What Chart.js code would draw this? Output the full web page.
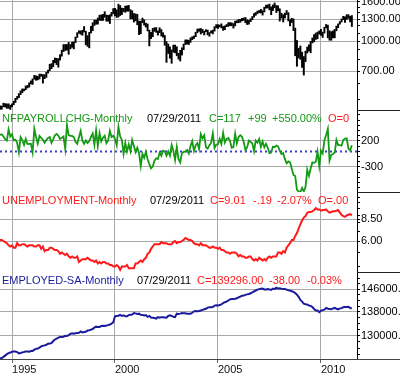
<!DOCTYPE html>
<html><head><meta charset="utf-8">
<script src="https://cdn.jsdelivr.net/npm/chart.js@4.4.0/dist/chart.umd.min.js"></script>
<style>html,body{margin:0;padding:0;background:#fff;overflow:hidden}canvas{display:block}</style>
</head><body>
<canvas id="c" width="400" height="376"></canvas>
<script>
// ---- categories: monthly, first month Jun 1994 ----
const startYear = 1994, startMonth = 6;

// ---- S&P 500 monthly low / high ----
const spLow = [
  443,444,457,456,449,449,443,
  457,468,481,500,510,529,541,553,560,572,578,600,
  597,635,627,630,637,657,606,639,649,683,704,720,
  737,773,756,733,798,836,883,894,898,855,912,929,
  912,983,1045,1098,1086,1073,1115,957,940,923,1102,1132,
  1205,1223,1225,1281,1278,1281,1328,1268,1268,1233,1347,1385,
  1350,1326,1333,1357,1373,1420,1410,1429,1428,1305,1305,1255,
  1274,1215,1081,1092,1245,1210,1182,1129,944,1031,1054,1123,
  1111,1074,1106,1063,1048,952,776,863,815,768,877,870,
  840,807,789,847,903,960,965,960,985,1018,1032,1055,
  1105,1124,1088,1105,1076,1118,1078,1060,1103,1090,1127,1172,
  1163,1184,1171,1137,1146,1188,1191,1201,1201,1168,1200,1245,
  1245,1253,1274,1280,1245,1219,1224,1261,1290,1331,1360,1385,
  1403,1398,1364,1416,1481,1484,1452,1370,1439,1489,1406,1435,
  1270,1316,1257,1317,1373,1272,1200,1248,1134,840,741,818,
  805,731,667,783,868,888,870,979,992,1020,1030,1086,
  1071,1045,1101,1170,1040,1011,1011,1040,1040,1131,1173,1224,
  1257,1292,1250,1295,1311,1258,1190
];
const spHigh = [
  463,461,477,475,473,474,466,
  473,489,506,517,535,553,566,565,586,590,608,623,
  638,665,661,658,675,675,671,671,690,708,759,765,
  795,818,815,812,851,898,960,961,961,985,960,987,
  992,1050,1106,1131,1130,1138,1190,1125,1067,1110,1193,1244,
  1285,1285,1317,1363,1367,1375,1420,1366,1359,1370,1409,1474,
  1479,1453,1553,1528,1482,1478,1518,1525,1531,1455,1437,1390,
  1383,1376,1270,1269,1316,1287,1238,1227,1140,1110,1164,1173,
  1176,1131,1173,1148,1106,1070,994,966,934,901,954,954,
  935,865,896,924,966,1015,1015,1011,1040,1054,1063,1112,
  1155,1158,1163,1150,1128,1146,1141,1108,1131,1140,1188,1217,
  1217,1212,1229,1192,1200,1219,1246,1246,1243,1233,1270,1276,
  1295,1297,1311,1319,1326,1290,1280,1306,1340,1389,1407,1431,
  1441,1461,1438,1498,1535,1541,1556,1504,1539,1576,1530,1524,
  1471,1396,1370,1397,1441,1405,1292,1314,1304,1168,1008,919,
  944,877,832,888,931,957,997,1039,1081,1101,1114,1130,
  1151,1113,1180,1220,1210,1132,1120,1130,1150,1196,1228,1263,
  1303,1345,1335,1370,1371,1345,1357
];

// ---- Nonfarm payroll change (thousands) ----
const nfp = [
  315,328,285,236,210,422,285,
  331,212,227,164,-18,273,215,126,240,142,145,148,
  -18,433,277,149,298,259,224,167,222,259,276,164,
  231,311,336,302,238,260,286,47,507,314,298,298,
  277,185,145,272,395,207,146,208,160,200,280,347,
  129,405,104,352,191,264,303,157,207,396,277,299,
  240,118,475,290,221,-45,163,-1,133,7,219,104,
  -15,71,-32,-282,-47,-124,-9,-152,-244,-326,-291,-178,
  -132,-147,-24,-83,15,1,-82,-1,-82,124,12,-165,
  87,-149,-209,-35,-8,-1,26,-41,106,199,11,120,
  160,43,333,250,310,80,52,119,162,347,65,131,
  136,240,142,359,171,241,257,200,71,84,343,153,
  276,312,281,183,23,82,208,183,157,4,208,170,
  238,88,188,78,144,71,-33,-24,88,84,114,98,
  10,-50,-33,-149,-231,-193,-210,-334,-452,-473,-740,-770,
  -780,-703,-770,-686,-351,-470,-329,-212,-219,-200,-7,-279,
  14,-39,208,313,432,-175,-66,-51,-27,220,121,120,
  110,220,246,251,53,18,117
];

// ---- Unemployment rate (%) ----
const unemp = [
  6.1,6.1,6.0,5.9,5.8,5.6,5.5,
  5.6,5.4,5.4,5.8,5.6,5.6,5.7,5.7,5.6,5.5,5.6,5.6,
  5.6,5.5,5.5,5.6,5.6,5.3,5.5,5.1,5.2,5.2,5.4,5.4,
  5.3,5.2,5.2,5.1,4.9,5.0,4.9,4.8,4.9,4.7,4.6,4.7,
  4.6,4.6,4.7,4.3,4.4,4.5,4.5,4.5,4.6,4.5,4.4,4.4,
  4.3,4.4,4.2,4.3,4.2,4.3,4.3,4.2,4.2,4.1,4.1,4.0,
  4.0,4.1,4.0,3.8,4.0,4.0,4.0,4.1,3.9,3.9,3.9,3.9,
  4.2,4.2,4.3,4.4,4.3,4.5,4.6,4.9,5.0,5.3,5.5,5.7,
  5.7,5.7,5.7,5.9,5.8,5.8,5.8,5.7,5.7,5.7,5.9,6.0,
  5.8,5.9,5.9,6.0,6.1,6.3,6.2,6.1,6.1,6.0,5.8,5.7,
  5.7,5.6,5.8,5.6,5.6,5.6,5.5,5.4,5.4,5.5,5.4,5.4,
  5.3,5.4,5.2,5.2,5.1,5.0,5.0,4.9,5.0,5.0,5.0,4.9,
  4.7,4.8,4.7,4.7,4.6,4.6,4.7,4.7,4.5,4.4,4.5,4.4,
  4.6,4.5,4.4,4.5,4.4,4.6,4.7,4.6,4.7,4.7,4.7,5.0,
  5.0,4.9,5.1,5.0,5.4,5.6,5.8,6.1,6.1,6.5,6.8,7.3,
  7.8,8.3,8.7,8.9,9.4,9.5,9.5,9.6,9.8,10.1,9.9,9.9,
  9.7,9.8,9.8,9.9,9.6,9.4,9.5,9.6,9.6,9.7,9.8,9.4,
  9.1,8.9,8.8,9.0,9.1,9.2,9.01
];

// ---- Employed, seasonally adjusted (thousands) ----
const employed = [
  122800,122950,123300,123700,124150,124450,124650,
  124900,124950,124950,124800,124400,124500,124700,124800,125000,125000,124900,125100,
  125100,125550,125800,125900,126200,126600,126800,126900,127100,127400,127500,127600,
  128300,128800,129100,129400,129600,129600,129700,130000,129900,130200,130600,130800,
  130700,130800,130900,131000,131400,131100,131200,131300,131700,131800,132000,132200,
  132700,133000,132900,132900,133200,133300,133200,133400,133500,133700,134000,134500,
  136500,136600,136700,137000,136600,136800,136500,136500,136900,137000,137100,137600,
  137500,137300,137400,137000,136900,136800,136900,136300,136600,136100,136000,135900,
  135700,136200,136000,136200,136200,136100,136000,136600,136800,136600,136300,136200,
  137400,137300,137400,137600,137500,137500,137400,137400,137400,137700,138200,138300,
  138200,138300,138500,138700,138900,139100,139500,139600,139600,139700,140200,140300,
  140200,140400,140600,141100,141400,141600,142000,142400,142500,142500,142600,142800,
  143100,143400,143700,143800,144000,144200,144300,144600,144900,145300,145600,145900,
  146100,146200,146300,146000,146000,146100,146000,145800,146300,146100,146600,146300,
  146400,146200,146100,146100,145900,145700,145600,145300,145100,144700,144100,143300,
  142200,141600,140900,140700,140600,140200,140100,139700,139000,138500,138500,137900,
  138400,138600,138800,139400,139100,139000,138900,139200,139400,139100,138900,139200,
  139300,139600,139700,139700,139800,139334,139296
];

// ---- tick values ----
const yearTicks = [1995, 2000, 2005, 2010];
const spTicks = [1600, 1300, 1000, 700];
const spMinor = [500, 600, 800, 900, 1100, 1200, 1400, 1500];
const nfpTicks = [200, -300];
const nfpMinor = [700, 600, 500, 400, 300, 100, 0, -100, -200, -400, -500, -600, -700];
const unTicks = [8.5, 6.0];
const unMinor = [4, 5, 7, 8, 9, 10, 11, 12];
const empTicks = [146000, 138000, 130000];
const empMinor = [150000, 148000, 144000, 142000, 140000, 136000, 134000, 132000, 128000, 126000, 124000];

// ---- panel header texts ----
const nfpTitle = ["NFPAYROLLCHG-Monthly", "07/29/2011", "C=117", "+99", "+550.00%", "O=0"];
const unTitle = ["UNEMPLOYMENT-Monthly", "07/29/2011", "C=9.01", "-.19", "-2.07%", "O=.00"];
const empTitle = ["EMPLOYED-SA-Monthly", "07/29/2011", "C=139296.00", "-38.00", "-0.03%"];

// ================= presentation =================
const GREEN = '#149a14', RED = '#ff1a1a', NAVY = '#1a1a9c', GRID = '#a8a8a8';
const FONT = {family: '"Liberation Sans", Arial, Helvetica, sans-serif', size: 11};
const monthT = i => startYear + (startMonth - 1 + i) / 12;
const xMin = monthT(0), xMax = monthT(208);

const titleLayout = [
  {axis: 'yNFP', text: nfpTitle, xs: [2, 147, 209, 248, 272, 328], colors: [GREEN, '#000', GREEN, GREEN, GREEN, RED]},
  {axis: 'yUN', text: unTitle, xs: [2, 150, 210, 253, 277, 318], colors: [RED, '#000', RED, RED, RED, RED]},
  {axis: 'yEMP', text: empTitle, xs: [2, 137, 197, 269, 307], colors: [NAVY, '#000', RED, RED, RED]}
];

function yAxis(type, min, max, major, minor, fmt, weight, order) {
  const majorSet = new Set(major);
  return {
    type, position: 'right', stack: 'panels', stackWeight: weight, weight: order,
    min, max, bounds: 'data', beginAtZero: false, offset: false,
    afterBuildTicks: ax => {
      ax.ticks = major.map(v => ({value: v, major: true}))
        .concat(minor.map(v => ({value: v, major: false})))
        .sort((a, b) => a.value - b.value);
    },
    afterFit: ax => { ax.width = 43; ax.paddingTop = 0; ax.paddingBottom = 0; },
    grid: {
      color: c => (c.tick && c.tick.major) ? GRID : 'rgba(0,0,0,0)',
      tickColor: '#000', tickLength: 3, lineWidth: 1, drawTicks: true
    },
    border: {display: true, color: '#000', width: 1},
    ticks: {autoSkip: false, padding: 1, color: '#000', font: FONT,
      callback: v => majorSet.has(v) ? fmt(v) : ''}
  };
}

const decor = {
  id: 'decor',
  afterDatasetsDraw(chart) {
    const ctx = chart.ctx;
    ctx.save();
    ctx.font = '11px "Liberation Sans", Arial, sans-serif';
    ctx.textBaseline = 'alphabetic';
    ctx.textAlign = 'left';
    titleLayout.forEach(p => {
      const top = Math.round(chart.scales[p.axis].top);
      p.text.forEach((t, i) => {
        ctx.fillStyle = p.colors[i];
        ctx.fillText(t, p.xs[i], top + 12);
      });
    });
    ctx.restore();
  },
  afterDraw(chart) {
    const ctx = chart.ctx;
    ctx.save();
    ctx.strokeStyle = '#222';
    ctx.lineWidth = 1;
    const right = chart.width;
    ['yNFP', 'yUN', 'yEMP'].forEach(id => {
      const s = chart.scales[id];
      const y = Math.round(s.top) + 0.5;
      ctx.beginPath(); ctx.moveTo(s.left, y); ctx.lineTo(right, y); ctx.stroke();
    });
    const s = chart.scales.yEMP;
    const yb = Math.round(s.bottom) + 0.5;
    ctx.strokeStyle = '#444';
    ctx.beginPath(); ctx.moveTo(s.left, yb); ctx.lineTo(right, yb); ctx.stroke();
    ctx.restore();
  }
};

new Chart(document.getElementById('c'), {
  type: 'line',
  data: {
    datasets: [
      {type: 'bar', label: 'S&P 500', xAxisID: 'x', yAxisID: 'ySP',
        data: spLow.map((lo, i) => ({x: monthT(i), y: [lo, spHigh[i]]})),
        backgroundColor: '#000', borderWidth: 0, barThickness: 1.3, grouped: false, order: 3},
      {label: 'NFP', xAxisID: 'x', yAxisID: 'yNFP',
        data: nfp.map((v, i) => ({x: monthT(i), y: v})),
        borderColor: GREEN, borderWidth: 1.8, pointRadius: 0, tension: 0, order: 1},
      {label: 'zero', xAxisID: 'x', yAxisID: 'yNFP',
        data: [{x: xMin, y: 0}, {x: xMax, y: 0}],
        borderColor: '#3c3cd0', borderWidth: 2, borderDash: [2, 3], pointRadius: 0, order: 5},
      {label: 'Unemployment', xAxisID: 'x', yAxisID: 'yUN',
        data: unemp.map((v, i) => ({x: monthT(i), y: v})),
        borderColor: RED, borderWidth: 2, pointRadius: 0, tension: 0, order: 1},
      {label: 'Employed', xAxisID: 'x', yAxisID: 'yEMP',
        data: employed.map((v, i) => ({x: monthT(i), y: v})),
        borderColor: NAVY, borderWidth: 2, pointRadius: 0, tension: 0, order: 1}
    ]
  },
  options: {
    responsive: false, animation: false, devicePixelRatio: 1,
    layout: {padding: 0},
    plugins: {legend: {display: false}, tooltip: {enabled: false}},
    scales: {
      x: {type: 'linear', position: 'bottom', min: xMin, max: xMax, bounds: 'data', offset: false,
        afterBuildTicks: ax => { ax.ticks = yearTicks.map(v => ({value: v})); },
        afterFit: ax => { ax.height = 17; ax.paddingLeft = 0; ax.paddingRight = 0; },
        grid: {color: GRID, tickColor: '#666', tickLength: 4, offset: false},
        border: {display: true, color: '#444', width: 1},
        ticks: {autoSkip: false, maxRotation: 0, minRotation: 0, align: 'start', padding: 0,
          color: '#111', font: FONT, callback: v => String(v)}},
      ySP: yAxis('logarithmic', 440, 1633, spTicks, spMinor, v => v.toFixed(2), 110, 1),
      yNFP: yAxis('linear', -781, 796, nfpTicks, nfpMinor, v => String(v), 82, 2),
      yUN: yAxis('logarithmic', 3.67, 13.05, unTicks, unMinor, v => v.toFixed(2), 80, 3),
      yEMP: yAxis('logarithmic', 122650, 152500, empTicks, empMinor, v => v.toFixed(2), 87, 4)
    }
  },
  plugins: [decor]
});
</script>
</body></html>
